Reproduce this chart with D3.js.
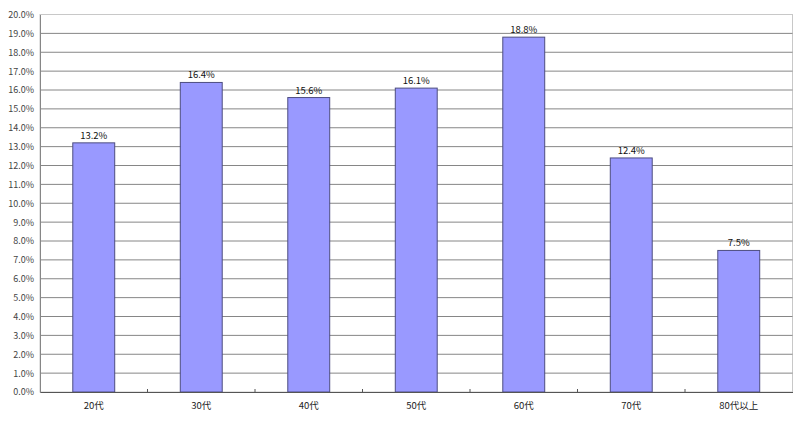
<html>
<head>
<meta charset="utf-8">
<script src="https://cdnjs.cloudflare.com/ajax/libs/d3/7.8.5/d3.min.js"></script>
<style>
body {
   margin: 0;
   background: #fff;
}
text {
   font-family: "Noto Sans CJK JP", "DejaVu Sans", sans-serif;
}
</style>
</head>
<body>
<svg id="canvas" width="800" height="421"></svg>
<script>

// age groups and their share (%)
var ageGroups = ['20代', '30代', '40代', '50代', '60代', '70代', '80代以上'];
var shares = [13.2, 16.4, 15.6, 16.1, 18.8, 12.4, 7.5];
var yTicks = d3.range(0, 21, 1);

var plotLeft = 40, plotRight = 792.5, plotTop = 14.5, plotBottom = 392;

var svg = d3.select('#canvas');

var x = d3.scaleBand()
  .domain(ageGroups)
  .range([plotLeft, plotRight])
  .paddingInner(0.61)
  .paddingOuter(0.305);

var y = d3.scaleLinear()
  .domain([0, 20])
  .range([plotBottom, plotTop]);

// plot border (light on top/right)
svg.append('rect')
  .attr('x', plotLeft)
  .attr('y', plotTop)
  .attr('width', plotRight - plotLeft)
  .attr('height', plotBottom - plotTop)
  .style('fill', 'none')
  .style('stroke', '#c8c8c8')
  .style('stroke-width', 1);

// horizontal grid
svg.selectAll('.grid')
  .data(yTicks.filter(function(d) { return d > 0 && d < 20; }))
  .enter()
  .append('line')
  .attr('class', 'grid')
  .attr('x1', plotLeft)
  .attr('x2', plotRight)
  .attr('y1', function(d) { return y(d); })
  .attr('y2', function(d) { return y(d); })
  .style('stroke', '#868686')
  .style('stroke-width', 1);

// y axis
var yAxis = d3.axisLeft(y)
  .tickValues(yTicks)
  .tickSize(0)
  .tickPadding(6)
  .tickFormat(function(d) { return d.toFixed(1) + '%'; });

var gy = svg.append('g')
  .attr('transform', 'translate(' + plotLeft + ',0)')
  .call(yAxis);
gy.select('.domain').style('stroke', '#868686');
gy.selectAll('text')
  .style('font-size', '9px')
  .style('fill', '#444');

// bars
svg.selectAll('.bars')
  .data(shares)
  .enter()
  .append('rect')
  .attr('class', 'bars')
  .attr('x', function(d, i) { return x(ageGroups[i]); })
  .attr('y', function(d) { return y(d); })
  .attr('width', x.bandwidth())
  .attr('height', function(d) { return y(0) - y(d); })
  .style('fill', '#9999ff')
  .style('stroke', '#4d4d80')
  .style('stroke-width', 1);

// value labels
svg.selectAll('.vals')
  .data(shares)
  .enter()
  .append('text')
  .attr('class', 'vals')
  .attr('x', function(d, i) { return x(ageGroups[i]) + x.bandwidth() / 2; })
  .attr('y', function(d) { return y(d) - 4; })
  .attr('text-anchor', 'middle')
  .style('font-size', '9.5px')
  .style('fill', '#111')
  .text(function(d) { return d.toFixed(1) + '%'; });

// x axis with ticks between categories
var step = x.step();
var xAxis = d3.axisBottom(x)
  .tickSize(0)
  .tickPadding(10);

var gx = svg.append('g')
  .attr('transform', 'translate(0,' + plotBottom + ')')
  .call(xAxis);
gx.select('.domain').style('stroke', '#555');
gx.selectAll('text')
  .style('font-size', '9.5px')
  .style('fill', '#222');

svg.selectAll('.sep')
  .data(ageGroups.slice(1))
  .enter()
  .append('line')
  .attr('class', 'sep')
  .attr('x1', function(d) { return x(d) - (step - x.bandwidth()) / 2; })
  .attr('x2', function(d) { return x(d) - (step - x.bandwidth()) / 2; })
  .attr('y1', plotBottom)
  .attr('y2', plotBottom - 3)
  .style('stroke', '#555');

</script>
</body>
</html>
